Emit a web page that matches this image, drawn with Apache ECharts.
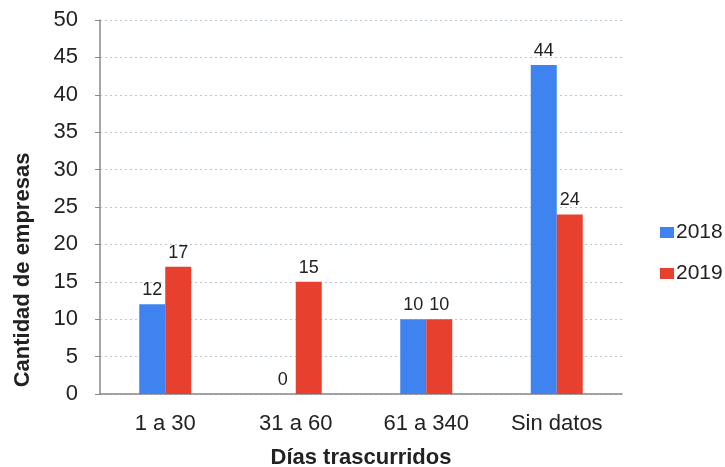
<!DOCTYPE html>
<html>
<head>
<meta charset="utf-8">
<script src="https://cdn.jsdelivr.net/npm/echarts@6/dist/echarts.min.js"></script>
<style>
html, body { margin: 0; padding: 0; background: #fff; }
#chart { width: 725px; height: 467px; }
</style>
</head>
<body>
<div id="chart"></div>
<script>
var categories = ['1 a 30', '31 a 60', '61 a 340', 'Sin datos'];
var values2018 = [12, 0, 10, 44];
var values2019 = [17, 15, 10, 24];

var labelStyle = {
    show: true,
    position: 'top',
    distance: 5,
    color: '#222',
    fontSize: 18,
    fontFamily: 'Liberation Sans'
};

var mychart = echarts.init(document.getElementById('chart'));
mychart.setOption({
    animation: false,
    textStyle: {fontFamily: 'Liberation Sans'},
    grid: {left: 100, right: 103, top: 20, bottom: 73, outerBoundsMode: 'none'},
    legend: {
        orient: 'vertical',
        left: 655,
        top: 217,
        itemWidth: 14,
        itemHeight: 11,
        itemGap: 20,
        icon: 'rect',
        textStyle: {fontSize: 21, color: '#222', padding: [0, 0, 0, -3]},
        data: ['2018', '2019']
    },
    graphic: [{
        type: 'text',
        x: 23,
        y: 270,
        rotation: Math.PI / 2,
        style: {
            text: 'Cantidad de empresas',
            fontSize: 22,
            fontWeight: 'bold',
            fontFamily: 'Liberation Sans',
            fill: '#222',
            align: 'center',
            verticalAlign: 'middle'
        }
    }],
    xAxis: {
        type: 'category',
        data: categories,
        name: 'Días trascurridos',
        nameLocation: 'middle',
        nameGap: 53,
        nameTextStyle: {fontSize: 22, fontWeight: 'bold', color: '#222'},
        axisLine: {lineStyle: {color: '#888', width: 1.5}},
        axisTick: {show: false},
        axisLabel: {fontSize: 22, color: '#222', margin: 19}
    },
    yAxis: {
        type: 'value',
        min: 0,
        max: 50,
        interval: 5,
        axisLine: {show: true, lineStyle: {color: '#888', width: 1.5}},
        axisTick: {show: true, length: 5, lineStyle: {color: '#888'}},
        axisLabel: {fontSize: 22, color: '#222', margin: 22},
        splitLine: {lineStyle: {color: '#b4c6d8', type: [2, 3]}}
    },
    series: [{
        name: '2018',
        type: 'bar',
        data: values2018,
        barWidth: 26,
        barGap: '0%',
        itemStyle: {color: '#3f83f0'},
        label: labelStyle
    }, {
        name: '2019',
        type: 'bar',
        data: values2019,
        barWidth: 26,
        barGap: '0%',
        itemStyle: {color: '#e8402f'},
        label: labelStyle
    }]
});
</script>
</body>
</html>
